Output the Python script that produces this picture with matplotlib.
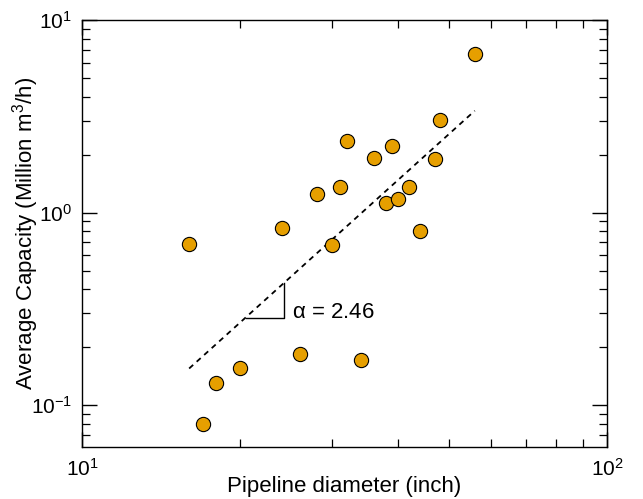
import numpy as np
import matplotlib
matplotlib.use("Agg")
import matplotlib.pyplot as plt
from matplotlib import ticker

plt.rcParams['font.family'] = ['Liberation Sans', 'DejaVu Sans']
plt.rcParams['mathtext.default'] = 'regular'

# pipeline diameter (inch) and average capacity (million m3/h)
diameter = [16, 17, 18, 20, 24, 26, 28, 30, 31, 32, 34, 36, 38, 39, 40, 42, 44, 47, 48, 56]
capacity = [0.69, 0.080, 0.130, 0.155, 0.83, 0.184, 1.25, 0.68, 1.35, 2.36,
            0.171, 1.93, 1.12, 2.22, 1.18, 1.35, 0.80, 1.90, 3.03, 6.67]

# power-law fit y = C * x^alpha
alpha = 2.46
log_c = -3.772
fit_range = [16, 56]
tri_x = [20.5, 24.3]


def fit(x):
    return 10 ** log_c * np.asarray(x, dtype=float) ** alpha


fig = plt.figure(figsize=(6.43, 4.99), dpi=100)
ax = fig.add_axes([0.1275, 0.1042, 0.8165, 0.8558])

xs = np.logspace(np.log10(fit_range[0]), np.log10(fit_range[1]), 50)
ax.plot(xs, fit(xs), color='black', lw=1.3, linestyle=(0, (3, 2.6)))

# slope triangle
y0 = fit(tri_x[0])
ax.plot([tri_x[0], tri_x[1], tri_x[1]], [y0, y0, fit(tri_x[1])], color='black', lw=1.0)
ax.text(25.1, 0.303, r'$\alpha$ = %.2f' % alpha, fontsize=16, va='center', ha='left')

ax.scatter(diameter, capacity, s=105, color='#E69F00', edgecolor='black', linewidth=0.8, zorder=3)

ax.set_xscale('log')
ax.set_yscale('log')
ax.set_xlim(10, 100)
ax.set_ylim(0.0606, 10)
ax.xaxis.set_minor_formatter(ticker.NullFormatter())
ax.yaxis.set_minor_formatter(ticker.NullFormatter())

ax.tick_params(which='both', direction='in', top=True, right=True, labelsize=15)
ax.tick_params(which='major', length=11, width=1.0)
ax.tick_params(which='minor', length=5.8, width=0.9)
ax.tick_params(axis='x', which='major', pad=8)
ax.tick_params(axis='y', which='major', pad=7)
for s in ax.spines.values():
    s.set_linewidth(1.0)

ax.set_xlabel('Pipeline diameter (inch)', fontsize=16)
ax.set_ylabel('Average Capacity (Million m$^3$/h)', fontsize=16)
ax.xaxis.set_label_coords(0.5, -0.068)
ax.yaxis.set_label_coords(-0.078, 0.5)

fig.savefig('out.png', dpi=100)
